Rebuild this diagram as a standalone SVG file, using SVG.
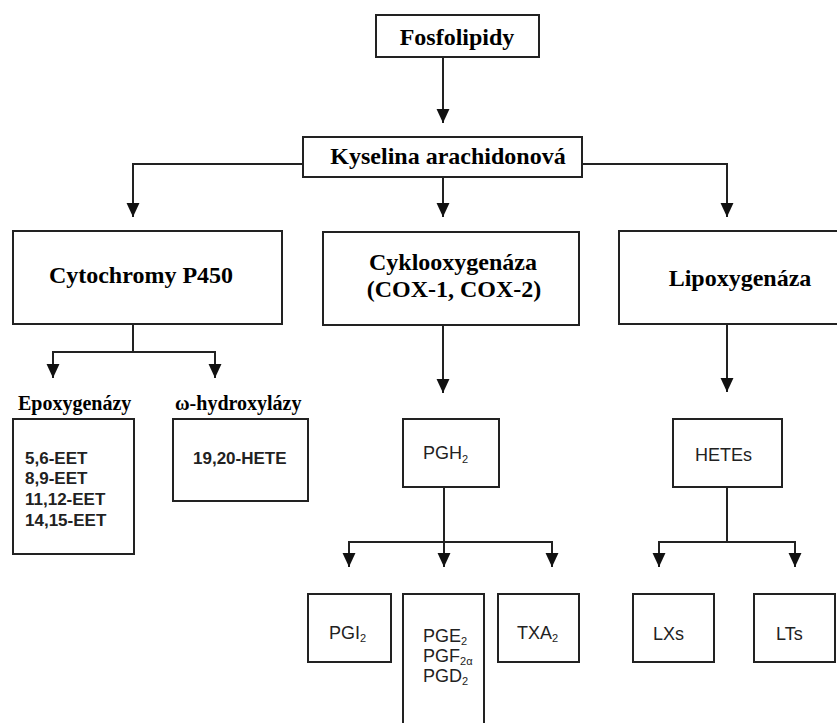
<svg xmlns="http://www.w3.org/2000/svg" width="837" height="723" viewBox="0 0 837 723">
<style>
.box{fill:#fff;stroke:#222;stroke-width:2}
.ln{fill:none;stroke:#222;stroke-width:2}
.h{font-family:"Liberation Serif","Times New Roman",serif;font-weight:bold;font-size:24px;fill:#000}
.lb{font-family:"Liberation Serif","Times New Roman",serif;font-weight:bold;font-size:20px;fill:#000}
.eb{font-family:"Liberation Sans",Arial,sans-serif;font-weight:bold;font-size:17px;fill:#222}
.t{font-family:"Liberation Sans",Arial,sans-serif;font-size:18px;fill:#222}
.sub{font-size:11px}
</style>
<defs>
<marker id="ah" markerUnits="userSpaceOnUse" markerWidth="14" markerHeight="14" viewBox="0 0 13 12" refX="13" refY="6" orient="auto">
<path d="M0,0 L13,6 L0,12 z" fill="#111"/>
</marker>
</defs>
<rect width="837" height="723" fill="#fff"/>
<g id="connectors">
<path class="ln" d="M443,57 V123" marker-end="url(#ah)"/>
<path class="ln" d="M303,164 H133 V217" marker-end="url(#ah)"/>
<path class="ln" d="M443,177 V217" marker-end="url(#ah)"/>
<path class="ln" d="M582,164 H727 V217" marker-end="url(#ah)"/>
<path class="ln" d="M133,324 V352 H53 V378" marker-end="url(#ah)"/>
<path class="ln" d="M133,352 H215 V378" marker-end="url(#ah)"/>
<path class="ln" d="M443,325 V393" marker-end="url(#ah)"/>
<path class="ln" d="M727,324 V392" marker-end="url(#ah)"/>
<path class="ln" d="M444,487 V542 H349 V567" marker-end="url(#ah)"/>
<path class="ln" d="M444,542 V567" marker-end="url(#ah)"/>
<path class="ln" d="M444,542 H552 V567" marker-end="url(#ah)"/>
<path class="ln" d="M727,487 V542 H659 V567" marker-end="url(#ah)"/>
<path class="ln" d="M727,542 H795 V567" marker-end="url(#ah)"/>
</g>
<g id="fosfolipidy">
<rect class="box" x="376" y="15" width="163" height="42"/>
<text class="h" x="457" y="45" text-anchor="middle">Fosfolipidy</text>
</g>
<g id="kyselina">
<rect class="box" x="303" y="137" width="279" height="40"/>
<text class="h" x="448" y="164" text-anchor="middle">Kyselina arachidonová</text>
</g>
<g id="cytochromy">
<rect class="box" x="13" y="231" width="269" height="93"/>
<text class="h" x="141" y="283" text-anchor="middle">Cytochromy P450</text>
</g>
<g id="cox">
<rect class="box" x="323" y="232" width="256" height="93"/>
<text class="h" x="453" y="270" text-anchor="middle">Cyklooxygenáza</text>
<text class="h" x="454" y="297" text-anchor="middle">(COX-1, COX-2)</text>
</g>
<g id="lipoxygenaza">
<rect class="box" x="619" y="231" width="230" height="93"/>
<text class="h" x="740" y="286" text-anchor="middle">Lipoxygenáza</text>
</g>
<g id="epoxygenazy">
<text class="lb" x="18" y="410">Epoxygenázy</text>
<rect class="box" x="13" y="419" width="121" height="135"/>
<text class="eb" x="25" y="464">5,6-EET</text>
<text class="eb" x="25" y="484">8,9-EET</text>
<text class="eb" x="25" y="505">11,12-EET</text>
<text class="eb" x="25" y="526">14,15-EET</text>
</g>
<g id="hydroxylazy">
<text class="lb" x="175" y="410">ω-hydroxylázy</text>
<rect class="box" x="173" y="419" width="135" height="82"/>
<text class="eb" x="193" y="464">19,20-HETE</text>
</g>
<g id="pgh2">
<rect class="box" x="403" y="419" width="96" height="68"/>
<text class="t" x="423" y="459">PGH<tspan class="sub" dy="4">2</tspan></text>
</g>
<g id="hetes">
<rect class="box" x="673" y="419" width="109" height="68"/>
<text class="t" x="695" y="461">HETEs</text>
</g>
<g id="pgi2">
<rect class="box" x="308" y="594" width="83" height="68"/>
<text class="t" x="329" y="639">PGI<tspan class="sub" dy="3">2</tspan></text>
</g>
<g id="pge2">
<rect class="box" x="403" y="594" width="81" height="140"/>
<text class="t" x="423" y="642">PGE<tspan class="sub" dy="3">2</tspan></text>
<text class="t" x="423" y="662">PGF<tspan class="sub" dy="3">2α</tspan></text>
<text class="t" x="423" y="682">PGD<tspan class="sub" dy="3">2</tspan></text>
</g>
<g id="txa2">
<rect class="box" x="498" y="594" width="81" height="68"/>
<text class="t" x="517" y="639">TXA<tspan class="sub" dy="3">2</tspan></text>
</g>
<g id="lxs">
<rect class="box" x="633" y="594" width="81" height="68"/>
<text class="t" x="653" y="640">LXs</text>
</g>
<g id="lts">
<rect class="box" x="754" y="594" width="81" height="68"/>
<text class="t" x="776" y="640">LTs</text>
</g>
</svg>
